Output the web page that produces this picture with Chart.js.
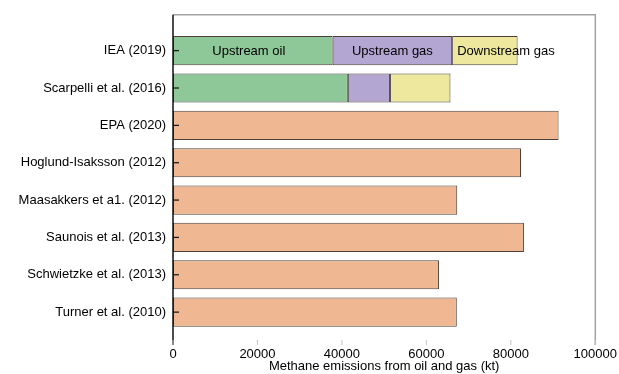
<!DOCTYPE html>
<html>
<head>
<meta charset="utf-8">
<title>Methane emissions from oil and gas</title>
<script src="https://cdn.jsdelivr.net/npm/chart.js@4.4.1/dist/chart.umd.min.js"></script>
<style>
  html, body { margin: 0; padding: 0; background: #fff; }
  #wrap { width: 619px; height: 374px; }
</style>
</head>
<body>
<div id="wrap"><canvas id="c"></canvas></div>
<script>
// Studies, top to bottom
const studies = [
  'IEA (2019)',
  'Scarpelli et al. (2016)',
  'EPA (2020)',
  'Hoglund-Isaksson (2012)',
  'Maasakkers et a1. (2012)',
  'Saunois et al. (2013)',
  'Schwietzke et al. (2013)',
  'Turner et al. (2010)'
];

// Sector breakdown (kt), only available for the first two studies
const upstreamOil   = [37800, 41400, null, null, null, null, null, null];
const upstreamGas   = [28300, 10000, null, null, null, null, null, null];
const downstreamGas = [15500, 14300, null, null, null, null, null, null];

// Total-only estimates (kt)
const totalOnly = [null, null, 91300, 82400, 67300, 83100, 63000, 67200];

const sectorNames = ['Upstream oil', 'Upstream gas', 'Downstream gas'];
const xTicks = [0, 20000, 40000, 60000, 80000, 100000];
const xTitle = 'Methane emissions from oil and gas (kt)';

Chart.defaults.font.family = "'Liberation Sans', Arial, Helvetica, sans-serif";
Chart.defaults.font.size = 13;
Chart.defaults.color = '#000';

// {x: value, y: row index} points, skipping empty rows
const toPoints = arr => arr
  .map((v, i) => (v == null ? null : { x: v, y: i }))
  .filter(p => p !== null);

const edge = '#4a4039';

// Inward tick marks and the axes frame
const framePlugin = {
  id: 'frame',
  afterDatasetsDraw(chart) {
    const { ctx, chartArea: a, scales } = chart;
    ctx.save();
    // light top and right border
    ctx.strokeStyle = '#a3a3a3';
    ctx.lineWidth = 1.5;
    ctx.beginPath();
    ctx.moveTo(a.left, a.top);
    ctx.lineTo(a.right, a.top);
    ctx.lineTo(a.right, a.bottom);
    ctx.stroke();
    // black left spine
    ctx.strokeStyle = '#111';
    ctx.lineWidth = 1.5;
    ctx.beginPath();
    ctx.moveTo(a.left, a.top);
    ctx.lineTo(a.left, a.bottom);
    ctx.stroke();
    // y ticks pointing into the plot
    ctx.lineWidth = 1.2;
    scales.y.ticks.forEach(t => {
      const py = scales.y.getPixelForValue(t.value);
      ctx.beginPath();
      ctx.moveTo(a.left, py);
      ctx.lineTo(a.left + 6, py);
      ctx.stroke();
    });
    // faint x ticks pointing into the plot
    ctx.strokeStyle = '#c4c4c4';
    ctx.lineWidth = 1;
    xTicks.forEach(v => {
      const px = scales.x.getPixelForValue(v);
      ctx.beginPath();
      ctx.moveTo(px, a.bottom);
      ctx.lineTo(px, a.bottom - 5);
      ctx.stroke();
    });
    ctx.restore();
  }
};

// Sector names written on the IEA bar segments
const sectorLabelPlugin = {
  id: 'sectorLabels',
  afterDatasetsDraw(chart) {
    const { ctx } = chart;
    ctx.save();
    ctx.font = "13px 'Liberation Sans', Arial, sans-serif";
    ctx.fillStyle = '#000';
    ctx.textBaseline = 'middle';
    for (let d = 0; d < 3; d++) {
      const el = chart.getDatasetMeta(d).data[0];
      if (!el) continue;
      const { x, base, y } = el.getProps(['x', 'base', 'y'], true);
      if (d < 2) {
        ctx.textAlign = 'center';
        ctx.fillText(sectorNames[d], (x + base) / 2 - (d === 0 ? 4 : 0), y + 1);
      } else {
        ctx.textAlign = 'left';
        ctx.fillText(sectorNames[d], base + 5, y + 1);
      }
    }
    ctx.restore();
  }
};

new Chart(document.getElementById('c'), {
  type: 'bar',
  data: {
    datasets: [
      { label: sectorNames[0], data: toPoints(upstreamOil),   backgroundColor: 'rgb(143,200,152)' },
      { label: sectorNames[1], data: toPoints(upstreamGas),   backgroundColor: 'rgb(180,166,210)' },
      { label: sectorNames[2], data: toPoints(downstreamGas), backgroundColor: 'rgb(237,232,157)' },
      { label: 'Total',        data: toPoints(totalOnly),     backgroundColor: 'rgb(239,183,146)' }
    ]
  },
  options: {
    indexAxis: 'y',
    responsive: true,
    maintainAspectRatio: false,
    animation: false,
    layout: { padding: { top: 13, right: 23, left: 0, bottom: 0 } },
    datasets: {
      bar: {
        categoryPercentage: 1,
        barPercentage: 0.78,
        borderWidth: 1,
        borderColor: edge,
        borderSkipped: false
      }
    },
    plugins: {
      legend: { display: false },
      tooltip: { enabled: false }
    },
    scales: {
      x: {
        type: 'linear',
        stacked: true,
        min: 0,
        max: 100000,
        afterBuildTicks: s => { s.ticks = xTicks.map(v => ({ value: v })); },
        ticks: {
          color: '#000',
          padding: 2,
          maxRotation: 0,
          callback: v => String(v)
        },
        grid: { display: false, drawTicks: false },
        border: { display: false },
        title: {
          display: true,
          text: xTitle,
          color: '#000',
          font: { size: 13 },
          padding: { top: 0, bottom: 0 }
        },
        afterFit: s => { s.height = 29; }
      },
      y: {
        type: 'linear',
        stacked: true,
        reverse: true,
        offset: false,
        min: -0.96,
        max: 7.88,
        afterBuildTicks: s => { s.ticks = studies.map((_, i) => ({ value: i })); },
        ticks: {
          color: '#000',
          padding: 7,
          autoSkip: false,
          callback: (v, i) => studies[i]
        },
        grid: { display: false, drawTicks: false, offset: false },
        border: { display: false },
        afterFit: s => { s.width = 173; }
      }
    }
  },
  plugins: [framePlugin, sectorLabelPlugin]
});
</script>
</body>
</html>
